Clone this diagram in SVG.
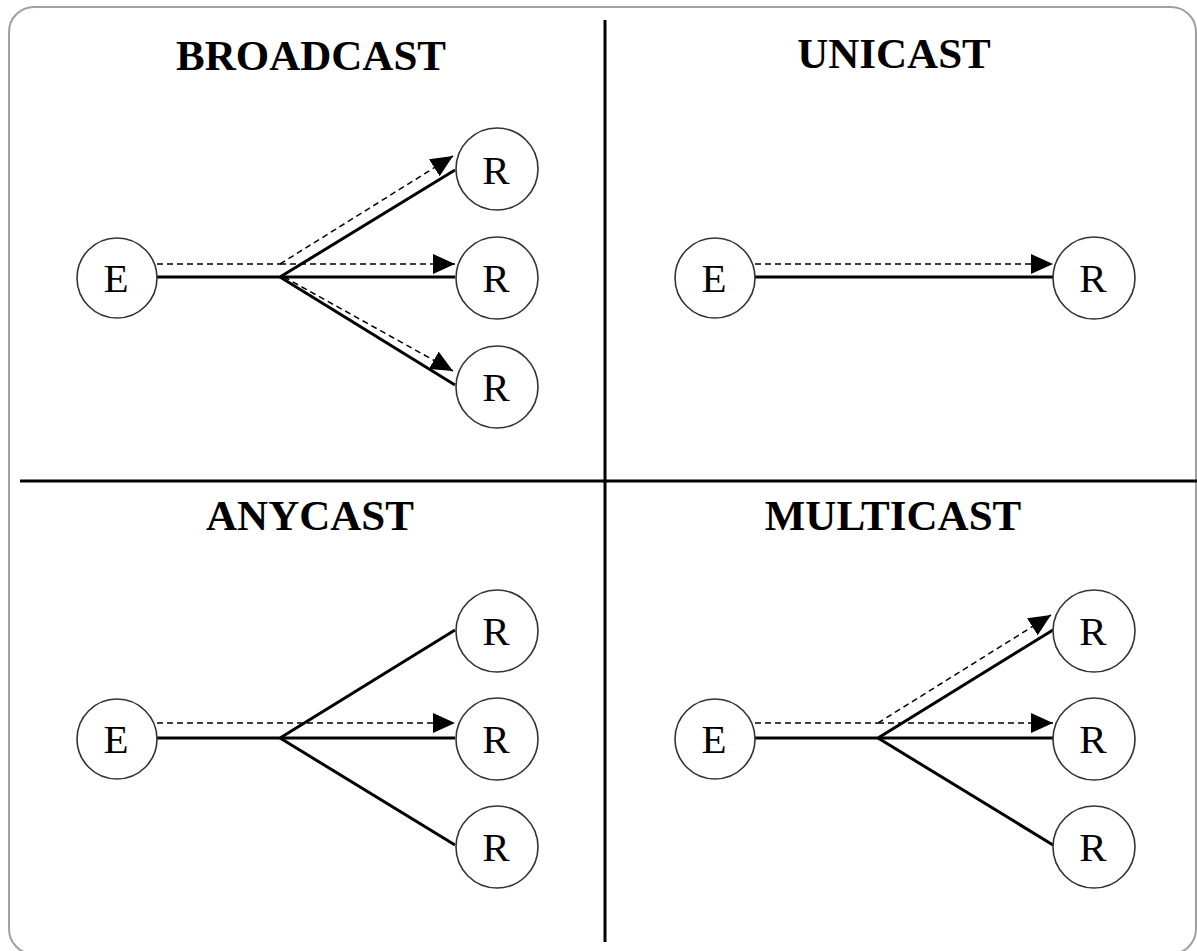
<svg xmlns="http://www.w3.org/2000/svg" width="1197" height="951" viewBox="0 0 1197 951">
<style>
.title{font-family:"Liberation Serif","Times New Roman",serif;font-weight:bold;font-size:43px;text-anchor:middle;fill:#000}
.lbl{font-family:"Liberation Serif","Times New Roman",serif;font-size:41px;text-anchor:middle;fill:#000}
.node circle{fill:#fff;stroke:#333;stroke-width:1.6}
.solid{stroke:#000;stroke-width:3;fill:none}
.dash{stroke:#000;stroke-width:1.5;stroke-dasharray:6 4;fill:none}
.arrow{marker-end:url(#ah)}
.div{stroke:#000;stroke-width:3}
</style>
<defs>
<marker id="ah" markerUnits="userSpaceOnUse" markerWidth="24" markerHeight="22" refX="22" refY="10" orient="auto" viewBox="0 0 24 22">
<path d="M0,0 L22,10 L0,20 Z" fill="#000"/>
</marker>
</defs>
<rect x="9" y="7" width="1187" height="947" rx="25" ry="25" fill="#fff" stroke="#a0a0a0" stroke-width="2"/>
<g id="dividers">
<line class="div" x1="605" y1="20" x2="605" y2="942"/>
<line class="div" x1="20" y1="481" x2="1197" y2="481"/>
</g>
<g id="titles">
<text class="title" x="311" y="70">BROADCAST</text>
<text class="title" x="894" y="68">UNICAST</text>
<text class="title" x="310" y="530">ANYCAST</text>
<text class="title" x="893" y="530">MULTICAST</text>
</g>
<g id="connectors">
<!-- broadcast -->
<polyline class="solid" points="157,277 280,277 455,170"/>
<line class="solid" x1="280" y1="277" x2="455" y2="277"/>
<line class="solid" x1="280" y1="277" x2="455" y2="385"/>
<line class="dash" x1="157" y1="264" x2="280" y2="264"/>
<line class="dash arrow" x1="280" y1="264" x2="455" y2="264"/>
<line class="dash arrow" x1="280" y1="264" x2="453" y2="156"/>
<line class="dash arrow" x1="284" y1="277" x2="453" y2="371"/>
<!-- unicast -->
<line class="solid" x1="755" y1="277" x2="1053" y2="277"/>
<line class="dash arrow" x1="755" y1="264" x2="1053" y2="264"/>
<!-- anycast -->
<polyline class="solid" points="157,738 280,738 455,630"/>
<line class="solid" x1="280" y1="738" x2="455" y2="738"/>
<line class="solid" x1="280" y1="738" x2="455" y2="845"/>
<line class="dash arrow" x1="157" y1="723" x2="455" y2="723"/>
<!-- multicast -->
<polyline class="solid" points="755,738 878,738 1053,630"/>
<line class="solid" x1="878" y1="738" x2="1053" y2="738"/>
<line class="solid" x1="878" y1="738" x2="1053" y2="845"/>
<line class="dash" x1="755" y1="723" x2="878" y2="723"/>
<line class="dash arrow" x1="878" y1="723" x2="1053" y2="723"/>
<line class="dash arrow" x1="878" y1="723" x2="1051" y2="615"/>
</g>
<g id="b-E" class="node"><circle cx="117" cy="278" r="40"/><text class="lbl" x="116" y="292">E</text></g>
<g id="b-R1" class="node"><circle cx="497" cy="169" r="41"/><text class="lbl" x="496" y="184">R</text></g>
<g id="b-R2" class="node"><circle cx="497" cy="278" r="41"/><text class="lbl" x="496" y="292">R</text></g>
<g id="b-R3" class="node"><circle cx="497" cy="387" r="41"/><text class="lbl" x="496" y="401">R</text></g>
<g id="u-E" class="node"><circle cx="715" cy="278" r="40"/><text class="lbl" x="714" y="292">E</text></g>
<g id="u-R" class="node"><circle cx="1094" cy="278" r="41"/><text class="lbl" x="1093" y="292">R</text></g>
<g id="a-E" class="node"><circle cx="117" cy="739" r="40"/><text class="lbl" x="116" y="753">E</text></g>
<g id="a-R1" class="node"><circle cx="497" cy="631" r="41"/><text class="lbl" x="496" y="645">R</text></g>
<g id="a-R2" class="node"><circle cx="497" cy="739" r="41"/><text class="lbl" x="496" y="753">R</text></g>
<g id="a-R3" class="node"><circle cx="497" cy="847" r="41"/><text class="lbl" x="496" y="861">R</text></g>
<g id="m-E" class="node"><circle cx="715" cy="739" r="40"/><text class="lbl" x="714" y="753">E</text></g>
<g id="m-R1" class="node"><circle cx="1094" cy="631" r="41"/><text class="lbl" x="1093" y="645">R</text></g>
<g id="m-R2" class="node"><circle cx="1094" cy="739" r="41"/><text class="lbl" x="1093" y="753">R</text></g>
<g id="m-R3" class="node"><circle cx="1094" cy="847" r="41"/><text class="lbl" x="1093" y="861">R</text></g>
</svg>
